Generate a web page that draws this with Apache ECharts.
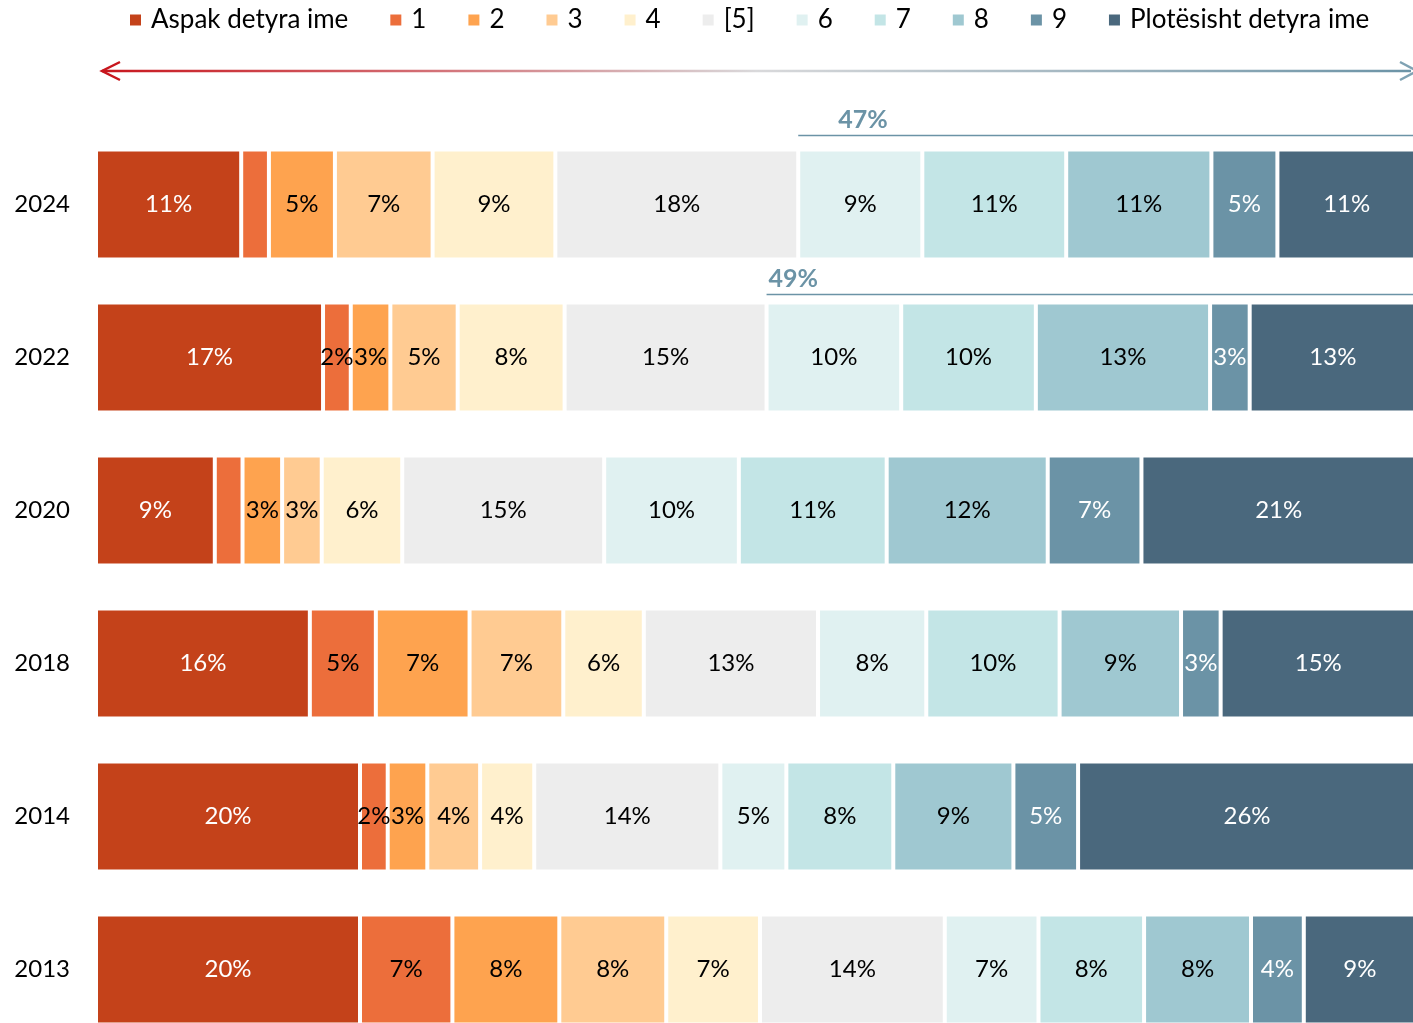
<!DOCTYPE html>
<html>
<head>
<meta charset="utf-8">
<script src="https://cdn.jsdelivr.net/npm/echarts@6/dist/echarts.min.js"></script>
<style>
html,body{margin:0;padding:0;background:#fff;}
#main{width:1413px;height:1023px;}
</style>
</head>
<body>
<div id="main"></div>
<script>
// ---- data ----
var years = ['2024', '2022', '2020', '2018', '2014', '2013'];
var seriesNames = ['Aspak detyra ime', '1', '2', '3', '4', '[5]', '6', '7', '8', '9', 'Plotësisht detyra ime'];
var v2024 = [11.0, 2.1, 5.0, 7.4, 9.3, 18.4, 9.4, 10.9, 11.0, 5.0, 10.5];
var v2022 = [17.2, 2.1, 3.0, 5.1, 8.1, 15.3, 10.2, 10.2, 13.2, 3.0, 12.6];
var v2020 = [9.0, 2.1, 3.0, 3.0, 6.1, 15.3, 10.2, 11.2, 12.2, 7.1, 20.8];
var v2018 = [16.2, 5.0, 7.1, 7.1, 6.1, 13.2, 8.2, 10.1, 9.2, 3.0, 14.8];
var v2014 = [20.0, 2.1, 3.0, 4.0, 4.1, 14.1, 5.0, 8.1, 9.1, 4.9, 25.6];
var v2013 = [20.0, 7.0, 8.1, 8.1, 7.1, 14.0, 7.1, 8.0, 8.1, 4.0, 8.5];
var rows = [v2024, v2022, v2020, v2018, v2014, v2013];
// segments whose value label is not shown: [yearIndex, seriesIndex]
var hiddenLabels = [[0, 1], [2, 1]];
// annotations: share of top categories (from series index 6 upward)
var annotations = [
  { year: '2024', fromIndex: 6, lineGap: 14, textDx: 40 },
  { year: '2022', fromIndex: 6, lineGap: 8, textDx: 2 }
];

// ---- styles ----
var colors = ['#C4421A', '#EC6E3B', '#FEA34F', '#FFCB92', '#FFF0CD', '#EDEDED', '#E0F1F1', '#C3E5E6', '#9FC8D1', '#6B93A6', '#4A687D'];
var whiteLabel = [true, false, false, false, false, false, false, false, false, true, true];
var FONT = 'Lato';
var BAR_W = 110;

var series = seriesNames.map(function (name, si) {
  return {
    name: name,
    type: 'bar',
    stack: 'total',
    barWidth: BAR_W,
    itemStyle: { color: colors[si], borderColor: '#fff', borderWidth: 2 },
    label: {
      show: true,
      position: 'inside',
      color: whiteLabel[si] ? '#fff' : '#000',
      fontFamily: FONT,
      fontSize: 24,
      formatter: function (p) { return Math.round(p.value) + '%'; }
    },
    emphasis: { disabled: true },
    data: rows.map(function (r, yi) {
      var hide = hiddenLabels.some(function (h) { return h[0] === yi && h[1] === si; });
      return hide ? { value: r[si], label: { show: false } } : r[si];
    })
  };
});

var chart = echarts.init(document.getElementById('main'));
chart.setOption({
  animation: false,
  legend: {
    data: seriesNames,
    left: 123,
    top: 2,
    icon: 'rect',
    itemWidth: 13,
    itemHeight: 13,
    itemGap: 40,
    textStyle: { fontFamily: FONT, fontSize: 26, color: '#000', padding: [0, 0, 0, 4] }
  },
  grid: { left: 96, width: 1320, top: 128, height: 918, outerBoundsMode: 'none', containLabel: false },
  xAxis: { type: 'value', min: 0, max: 100, show: false },
  yAxis: {
    type: 'category',
    data: years,
    inverse: true,
    axisLine: { show: false },
    axisTick: { show: false },
    axisLabel: { fontFamily: FONT, fontSize: 24, color: '#000', margin: 26 }
  },
  series: series
});

// ---- decorations: arrow + annotations ----
var graphics = [];
graphics.push({
  type: 'line',
  shape: { x1: 102, y1: 71, x2: 1411, y2: 71 },
  style: {
    lineWidth: 2.5,
    stroke: new echarts.graphic.LinearGradient(0, 0, 1, 0, [
      { offset: 0, color: '#C8161D' },
      { offset: 0.25, color: '#D36F75' },
      { offset: 0.5, color: '#D9D9DB' },
      { offset: 1, color: '#6B93A6' }
    ])
  },
  silent: true
});
graphics.push({
  type: 'polyline',
  shape: { points: [[120, 62], [102, 71], [120, 80]] },
  style: { stroke: '#C8161D', lineWidth: 2.5, fill: null },
  silent: true
});
graphics.push({
  type: 'polyline',
  shape: { points: [[1400, 62], [1417, 71], [1400, 80]] },
  style: { stroke: '#7FA2B3', lineWidth: 2.5, fill: null },
  silent: true
});

annotations.forEach(function (a) {
  var yi = years.indexOf(a.year);
  var row = rows[yi];
  var before = 0, share = 0;
  for (var i = 0; i < row.length; i++) {
    if (i < a.fromIndex) before += row[i]; else share += row[i];
  }
  var p0 = chart.convertToPixel({ xAxisIndex: 0, yAxisIndex: 0 }, [before, yi]);
  var p1 = chart.convertToPixel({ xAxisIndex: 0, yAxisIndex: 0 }, [100, yi]);
  var ly = p0[1] - BAR_W / 2 - a.lineGap;
  graphics.push({
    type: 'line',
    shape: { x1: p0[0], y1: ly, x2: p1[0], y2: ly },
    style: { stroke: '#6B93A6', lineWidth: 1.5 },
    silent: true
  });
  graphics.push({
    type: 'text',
    x: p0[0] + a.textDx,
    y: ly - 3,
    style: {
      text: Math.round(share) + '%',
      fontFamily: FONT,
      fontSize: 25,
      fontWeight: 'bold',
      fill: '#6B93A6',
      textVerticalAlign: 'bottom',
      verticalAlign: 'bottom'
    },
    silent: true
  });
});
chart.setOption({ graphic: graphics });
</script>
</body>
</html>
